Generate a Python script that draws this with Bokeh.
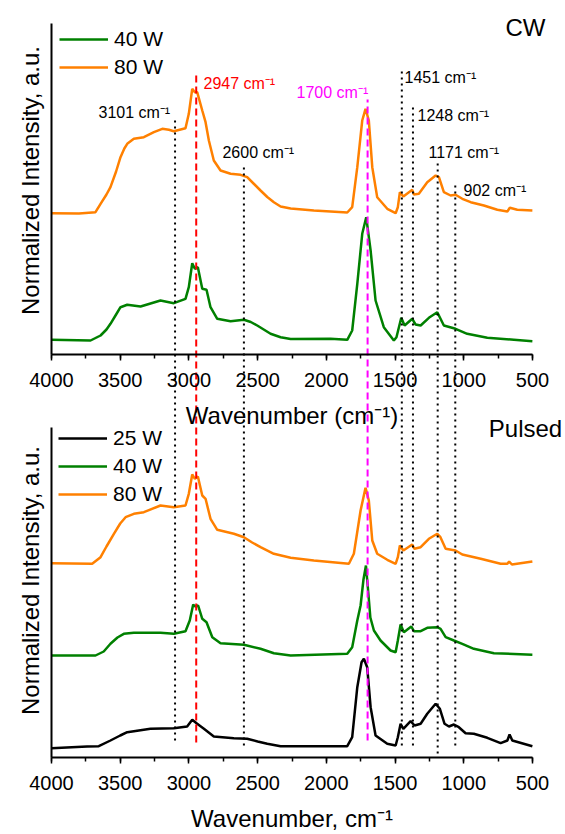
from bokeh.plotting import figure
from bokeh.models import (Range1d, LinearAxis, SingleIntervalTicker, FixedTicker,
                          Legend, LegendItem)
from bokeh.core.properties import value
from bokeh.embed import file_html
from bokeh.resources import INLINE

FONT = "Liberation Sans"
GREEN = "#008000"
ORANGE = "#FF8000"
BLACK = "#000000"

# ---------------- data (wavenumber, cm-1 ; normalized intensity incl. stacking, a.u.) -------------
cw80_wn = [4000, 3800, 3680, 3643, 3600, 3571, 3530, 3498, 3470, 3449, 3401, 3328, 3255, 3194, 3146, 3110,
           3025, 3001, 2976, 2957, 2940, 2903, 2879, 2855, 2819, 2770, 2697, 2624, 2576, 2530, 2479, 2430,
           2382, 2333, 2260, 2091, 1848, 1812, 1775, 1739, 1715, 1691, 1666, 1630, 1557, 1496, 1480, 1465,
           1440, 1399, 1375, 1363, 1327, 1266, 1205, 1181, 1145, 1096, 1060, 1011, 950, 854, 756, 683, 665,
           611, 501]
cw80_int = [141.3, 141, 142.3, 150.7, 160, 167.3, 183, 197.3, 206, 210.7, 215.7, 217.3, 222.3, 225.7, 224.7, 223.3,
            226.3, 240.7, 265.7, 262.3, 262.3, 244, 232.3, 214, 194, 184, 180.7, 179.7, 177.3, 171, 164, 157.5,
            152.3, 148, 146, 144, 142, 147.3, 187.3, 234, 245.7, 234, 187.3, 157.3, 145.7, 141.3, 147.3, 162.3,
            158, 162.3, 164.7, 160, 160.7, 172.3, 179, 177.3, 162.3, 159, 159.7, 155.7, 152.3, 149, 144.7, 143, 146.7,
            144.7, 144]

cw40_wn = [4000, 3716, 3643, 3600, 3571, 3530, 3498, 3449, 3352, 3207, 3110, 3025, 3001, 2976, 2957, 2935,
           2903, 2872, 2843, 2794, 2697, 2600, 2550, 2503, 2450, 2406, 2333, 2260, 1970, 1848, 1812, 1775,
           1739, 1710, 1678, 1642, 1582, 1509, 1490, 1455, 1431, 1375, 1351, 1314, 1254, 1193, 1145, 1060,
           975, 829, 636, 501]
cw40_int = [14.7, 14, 19, 25, 30.7, 40, 47.3, 49.7, 48, 54, 51.3, 55.7, 67.3, 91.3, 85.7, 87.3,
            65.7, 64.7, 47.3, 35.7, 33.3, 34.7, 32.5, 29, 24.5, 20.7, 17.3, 15.5, 15.7, 14.7, 24, 70.7,
            120.7, 137.3, 104, 54, 27.3, 14, 17.3, 36.7, 29, 35.7, 30, 29, 36.7, 42.3, 29, 25.7,
            20.7, 16.7, 14.7, 13.3]

p80_wn = [4000, 3704, 3643, 3600, 3546, 3500, 3461, 3401, 3328, 3207, 3110, 3025, 3001, 2976, 2957, 2935,
          2903, 2879, 2843, 2794, 2673, 2600, 2540, 2479, 2382, 2260, 2091, 1836, 1800, 1751, 1715, 1691,
          1666, 1630, 1557, 1496, 1480, 1465, 1440, 1375, 1360, 1314, 1254, 1193, 1170, 1132, 1060, 1011,
          877, 732, 683, 670, 650, 501]
p80_int = [194.3, 193.7, 200.3, 211, 223.7, 234, 240.3, 243.7, 245.3, 252, 250.3, 252, 263.7, 283, 278.7, 281,
           262, 258.7, 238.7, 227.7, 223.7, 220.3, 215, 210.3, 203.7, 199.7, 197, 193.7, 203.7, 247, 269.7, 257,
           217, 203.7, 197.7, 193.7, 200.3, 212, 207, 213, 208.7, 210.3, 218.7, 223.7, 220.3, 208.7, 207, 203,
           198.7, 193.7, 193.7, 196, 193, 196]

p40_wn = [4000, 3680, 3620, 3571, 3520, 3474, 3401, 3207, 3110, 3025, 2994, 2969, 2955, 2933, 2903, 2872,
          2830, 2770, 2600, 2479, 2382, 2260, 1848, 1812, 1775, 1751, 1730, 1712, 1695, 1680, 1654, 1606,
          1533, 1496, 1480, 1460, 1436, 1382, 1363, 1314, 1266, 1193, 1169, 1132, 1072, 1011, 927, 781, 501]
p40_int = [102, 102, 106, 113.7, 120, 123.7, 124.7, 124.7, 123.7, 126.3, 137, 153, 151, 152, 138.7, 135.3,
           120.3, 114.3, 112.7, 108.7, 104.3, 102, 103.7, 110.3, 137, 152, 178, 192, 165, 140, 127, 117,
           107, 105.3, 117, 133, 125.3, 131, 126.3, 126.3, 129.7, 130.3, 128.7, 120.3, 117, 113.7, 108.7,
           104.3, 102.7]

p25_wn = [4000, 3741, 3656, 3571, 3500, 3449, 3280, 3110, 3013, 2976, 2940, 2891, 2819, 2673, 2576, 2500,
          2430, 2333, 1848, 1812, 1775, 1744, 1727, 1703, 1678, 1642, 1557, 1496, 1480, 1460, 1440, 1387,
          1358, 1314, 1266, 1205, 1174, 1140, 1108, 1072, 1036, 987, 927, 829, 732, 683, 667, 647, 501]
p25_int = [9.3, 11, 11.3, 17, 22, 25.3, 28.7, 29.3, 31, 37.7, 33.7, 28.7, 21, 19.3, 18.7, 16,
           13.7, 11.3, 11.3, 20.3, 70.3, 95.3, 98.7, 90.3, 50.3, 22, 13.7, 12, 20.3, 33.7, 28.7, 36.3,
           32, 33.7, 43.7, 53.7, 48.7, 33.7, 31, 33, 30.3, 24.3, 23.7, 19.7, 14.3, 17, 23, 17, 11.3]

# marker lines (cm-1) and their labels
dot_wn = [3101, 2600, 1451, 1370, 1190, 1062]
red_wn = [2947]
mag_wn = [1700]
peak_labels = ["3101 cm\u207b\u00b9", "2947 cm\u207b\u00b9", "2600 cm\u207b\u00b9", "1700 cm\u207b\u00b9",
               "1451 cm\u207b\u00b9", "1248 cm\u207b\u00b9", "1171 cm\u207b\u00b9", "902 cm\u207b\u00b9"]

# ---------------- layout constants (data units of the shared canvas) ----------------
TOP_BASE = 403          # y of the upper panel's x axis
TOP_END = 734
BOT_END = 330

dot_y0 = [17, 12, 12, 12, 4, 12]
dot_y1 = [639, 594, 690, 650, 595, 575]
red_y = (15, 682)
mag_y = (17, 658)

lab_x = [3658, 2894, 2756, 2217, 1431, 1337, 1257, 1002]
lab_y = [645, 674, 605, 665, 680, 642, 605, 567]
lab_col = [BLACK, "#FF0000", BLACK, "#FF00FF", BLACK, BLACK, BLACK, BLACK]

p = figure(width=565, height=834, x_range=Range1d(4371.1, 260), y_range=Range1d(-77, 757),
           output_backend="svg", toolbar_location=None, x_axis_location=None, y_axis_location=None,
           min_border_left=0, min_border_right=0, min_border_top=0, min_border_bottom=0,
           outline_line_color=None, background_fill_color="white", border_fill_color="white")
p.grid.visible = False


def x_axis(loc, label):
    ax = LinearAxis(fixed_location=loc)
    ax.ticker = SingleIntervalTicker(interval=500, num_minor_ticks=2)
    ax.bounds = (500, 4000)
    ax.axis_line_width = 2
    ax.axis_line_color = BLACK
    ax.major_tick_line_width = 1.5
    ax.minor_tick_line_width = 1.5
    ax.major_tick_out = 6
    ax.major_tick_in = 0
    ax.minor_tick_out = 4
    ax.minor_tick_in = 0
    ax.major_label_text_font = FONT
    ax.major_label_text_font_size = "20px"
    ax.major_label_text_color = BLACK
    ax.major_label_standoff = 12
    ax.axis_label = label
    ax.axis_label_text_font = FONT
    ax.axis_label_text_font_size = "24px"
    ax.axis_label_text_font_style = "normal"
    ax.axis_label_text_color = BLACK
    ax.axis_label_standoff = 12
    p.add_layout(ax, "below")


x_axis(0, "Wavenumber, cm\u207b\u00b9")
x_axis(TOP_BASE, "Wavenumber (cm\u207b\u00b9)")


def y_axis(lo, hi, label, line):
    ax = LinearAxis(fixed_location=4000, bounds=(lo, hi), ticker=FixedTicker(ticks=[]))
    ax.axis_line_width = 2
    ax.axis_line_color = BLACK if line else None
    ax.major_tick_line_color = None
    ax.minor_tick_line_color = None
    ax.major_label_text_alpha = 0
    ax.axis_label = label
    ax.axis_label_text_font = FONT
    ax.axis_label_text_font_size = "24px"
    ax.axis_label_text_font_style = "normal"
    ax.axis_label_text_color = BLACK
    ax.axis_label_standoff = 8
    p.add_layout(ax, "left")


y_axis(TOP_BASE, TOP_END, None, True)
y_axis(0, BOT_END, None, True)
y_axis(577 - 160, 577 + 160, "Normalized Intensity, a.u.", False)
y_axis(177 - 160, 177 + 160, "Normalized Intensity, a.u.", False)

LW = 2.5
r_cw40 = p.line(cw40_wn, [TOP_BASE + v for v in cw40_int], line_color=GREEN, line_width=LW)
r_cw80 = p.line(cw80_wn, [TOP_BASE + v for v in cw80_int], line_color=ORANGE, line_width=LW)
r_p25 = p.line(p25_wn, p25_int, line_color=BLACK, line_width=LW)
r_p40 = p.line(p40_wn, p40_int, line_color=GREEN, line_width=LW)
r_p80 = p.line(p80_wn, p80_int, line_color=ORANGE, line_width=LW)

# marker lines
p.segment(x0=dot_wn, y0=dot_y0, x1=dot_wn, y1=dot_y1, line_color=BLACK, line_width=2,
          line_dash="2 4")
p.segment(x0=red_wn, y0=[red_y[0]], x1=red_wn, y1=[red_y[1]], line_color="#FF0000", line_width=2,
          line_dash="7 4")
p.segment(x0=mag_wn, y0=[mag_y[0]], x1=mag_wn, y1=[mag_y[1]], line_color="#FF00FF", line_width=2,
          line_dash="7 4")

p.text(x=lab_x, y=lab_y, text=peak_labels, text_color=lab_col, text_font=value(FONT),
       text_font_size=value("16px"), text_align="left", text_baseline="middle")
p.text(x=[551, 551], y=[730, 329], text=["CW", "Pulsed"], text_color=BLACK, text_font=value(FONT),
       text_font_size=value("24px"), text_align="center", text_baseline="middle")


def make_legend(items, loc):
    leg = Legend(items=items, location=loc, margin=0, padding=0, spacing=4,
                 glyph_width=49, glyph_height=24, label_height=24, label_standoff=6,
                 border_line_color=None, background_fill_alpha=0,
                 label_text_font=FONT, label_text_font_size="21px", label_text_color=BLACK)
    p.add_layout(leg)


make_legend([LegendItem(label="40 W", renderers=[r_cw40]),
             LegendItem(label="80 W", renderers=[r_cw80])], (59, 755))
make_legend([LegendItem(label="25 W", renderers=[r_p25]),
             LegendItem(label="40 W", renderers=[r_p40]),
             LegendItem(label="80 W", renderers=[r_p80])], (58, 328))

open("out.html", "w").write(file_html(p, INLINE))
